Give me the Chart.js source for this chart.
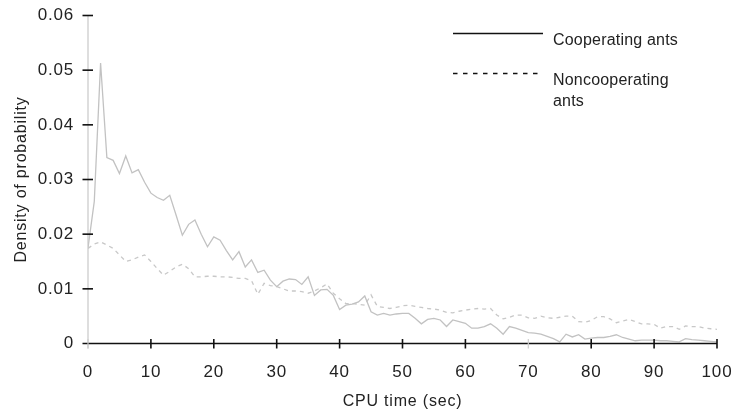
<!DOCTYPE html>
<html>
<head>
  <title>CPU time density</title>
  <style>
    html, body { margin: 0; padding: 0; background: #fff; }
    canvas { display: block; }
  </style>
</head>
<body>
  <canvas id="chart" width="734" height="411"></canvas>

  <script src="https://cdn.jsdelivr.net/npm/chart.js"></script>
  <script>
    // CPU time (sec)
    const cpuTime = [
      0, 1, 2, 3, 4, 5, 6, 7, 8, 9,
      10, 11, 12, 13, 14, 15, 16, 17, 18, 19,
      20, 21, 22, 23, 24, 25, 26, 27, 28, 29,
      30, 31, 32, 33, 34, 35, 36, 37, 38, 39,
      40, 41, 42, 43, 44, 45, 46, 47, 48, 49,
      50, 51, 52, 53, 54, 55, 56, 57, 58, 59,
      60, 61, 62, 63, 64, 65, 66, 67, 68, 69,
      70, 71, 72, 73, 74, 75, 76, 77, 78, 79,
      80, 81, 82, 83, 84, 85, 86, 87, 88, 89,
      90, 91, 92, 93, 94, 95, 96, 97, 98, 99,
      100
    ];

    const cooperating = [
      0.0175, 0.0260, 0.0513, 0.0340, 0.0335, 0.0311, 0.0343, 0.0312, 0.0318, 0.0295,
      0.0275, 0.0267, 0.0262, 0.0271, 0.0235, 0.0198, 0.0218, 0.0226, 0.0200, 0.0177,
      0.0195, 0.0189, 0.0170, 0.0153, 0.0168, 0.0140, 0.0153, 0.0130, 0.0134, 0.0116,
      0.0104, 0.0114, 0.0118, 0.0117, 0.0108, 0.0122, 0.0088, 0.0098, 0.0099, 0.0088,
      0.0062, 0.0070, 0.0072, 0.0076, 0.0087, 0.0058, 0.0052, 0.0055, 0.0052, 0.0054,
      0.0055, 0.0055, 0.0046, 0.0036, 0.0044, 0.0046, 0.0043, 0.0031, 0.0043, 0.0040,
      0.0037, 0.0028, 0.0028, 0.0031, 0.0036, 0.0028, 0.0017, 0.0031, 0.0028, 0.0024,
      0.0020, 0.0019, 0.0017, 0.0013, 0.0009, 0.0003, 0.0017, 0.0012, 0.0016, 0.0008,
      0.0010, 0.0011, 0.0011, 0.0013, 0.0016, 0.0011, 0.0008, 0.0005, 0.0006, 0.0006,
      0.0006, 0.0005, 0.0005, 0.0004, 0.0003, 0.0009, 0.0007, 0.0006, 0.0005, 0.0004,
      0.0003
    ];

    const noncooperating = [
      0.0174, 0.0182, 0.0186, 0.0180, 0.0174, 0.0162, 0.0150, 0.0153, 0.0158, 0.0162,
      0.0150, 0.0137, 0.0125, 0.0132, 0.0140, 0.0145, 0.0137, 0.0122, 0.0122, 0.0123,
      0.0123, 0.0122, 0.0122, 0.0121, 0.0119, 0.0119, 0.0115, 0.0090, 0.0110, 0.0106,
      0.0104, 0.0100, 0.0096, 0.0096, 0.0095, 0.0092, 0.0096, 0.0102, 0.0109, 0.0092,
      0.0082, 0.0073, 0.0073, 0.0072, 0.0070, 0.0089, 0.0068, 0.0066, 0.0064, 0.0066,
      0.0069, 0.0070, 0.0068, 0.0066, 0.0064, 0.0063, 0.0061, 0.0057, 0.0056, 0.0059,
      0.0061, 0.0063, 0.0064, 0.0063, 0.0064, 0.0052, 0.0045, 0.0048, 0.0052, 0.0052,
      0.0047, 0.0046, 0.0050, 0.0047, 0.0046, 0.0048, 0.0050, 0.0050, 0.0040, 0.0039,
      0.0042, 0.0049, 0.0049, 0.0045, 0.0038, 0.0041, 0.0044, 0.0040, 0.0036, 0.0036,
      0.0035, 0.0028, 0.0031, 0.0031, 0.0026, 0.0032, 0.0031, 0.0031, 0.0028, 0.0027,
      0.0026
    ];

    const seriesNames = ['Cooperating ants', 'Noncooperating ants'];
    // how the legend wraps each name
    const legendLines = [['Cooperating ants'], ['Noncooperating', 'ants']];
    const xTicks = [0, 10, 20, 30, 40, 50, 60, 70, 80, 90, 100];
    const yTicks = [0, 0.01, 0.02, 0.03, 0.04, 0.05, 0.06];

    const toPoints = ys => ys.map((y, i) => ({ x: cpuTime[i], y: y }));

    // axis lines and ticks that cross the axis, like the original
    const axesPlugin = {
      id: 'axesPlugin',
      afterDatasetsDraw(chart) {
        const { ctx, chartArea: a, scales } = chart;
        ctx.save();
        ctx.lineCap = 'butt';

        ctx.strokeStyle = '#c8c8c8';
        ctx.lineWidth = 1.2;
        ctx.beginPath();
        ctx.moveTo(a.left, a.top);
        ctx.lineTo(a.left, a.bottom + 5);
        ctx.stroke();

        ctx.strokeStyle = '#111';
        ctx.lineWidth = 1.6;
        ctx.beginPath();
        ctx.moveTo(a.left - 5.5, a.bottom);
        ctx.lineTo(a.right, a.bottom);
        ctx.stroke();

        yTicks.forEach(v => {
          if (v === 0) return;
          const py = scales.y.getPixelForValue(v);
          ctx.beginPath();
          ctx.moveTo(a.left - 5.5, py);
          ctx.lineTo(a.left + 5, py);
          ctx.stroke();
        });

        xTicks.forEach(v => {
          const px = scales.x.getPixelForValue(v);
          ctx.strokeStyle = (v === 0 || v === 70) ? '#cfcfcf' : '#111';
          ctx.lineWidth = (v === 0 || v === 70) ? 1.2 : 1.6;
          ctx.beginPath();
          ctx.moveTo(px, a.bottom - 4.5);
          ctx.lineTo(px, a.bottom + 5);
          ctx.stroke();
        });
        ctx.restore();
      }
    };

    const legendPlugin = {
      id: 'legendPlugin',
      afterDraw(chart) {
        const ctx = chart.ctx;
        ctx.save();
        ctx.letterSpacing = '0.2px';
        ctx.font = '16px "Liberation Sans", Arial, sans-serif';
        ctx.fillStyle = '#222';
        ctx.textBaseline = 'alphabetic';
        const rows = [33.5, 73.5];
        rows.forEach((ly, i) => {
          ctx.strokeStyle = '#111';
          ctx.lineWidth = 1.5;
          ctx.setLineDash(i === 0 ? [] : [4.5, 5.5]);
          ctx.beginPath();
          ctx.moveTo(453, ly);
          ctx.lineTo(543, ly);
          ctx.stroke();
          legendLines[i].forEach((t, j) => {
            ctx.fillText(t, 553, ly + 11 + j * 21.6);
          });
        });
        ctx.restore();
      }
    };

    const spacingPlugin = {
      id: 'spacingPlugin',
      beforeDraw(chart) {
        chart.ctx.letterSpacing = '0.8px';
      }
    };

    const fontFamily = '"Liberation Sans", Arial, sans-serif';

    new Chart(document.getElementById('chart'), {
      type: 'line',
      data: {
        datasets: [
          {
            label: seriesNames[0],
            data: toPoints(cooperating),
            borderColor: '#c2c2c2',
            borderWidth: 1.3,
            pointRadius: 0,
            tension: 0,
            fill: false
          },
          {
            label: seriesNames[1],
            data: toPoints(noncooperating),
            borderColor: '#c8c8c8',
            borderWidth: 1.3,
            borderDash: [4, 4],
            pointRadius: 0,
            tension: 0,
            fill: false
          }
        ]
      },
      options: {
        responsive: false,
        animation: false,
        devicePixelRatio: 1,
        layout: { padding: { left: 0, right: 17, top: 15.5, bottom: 0 } },
        plugins: {
          legend: { display: false },
          tooltip: { enabled: false }
        },
        scales: {
          x: {
            type: 'linear',
            min: 0,
            max: 100,
            afterFit: s => {
              s.height = 67.5;
              s.paddingLeft = 0;
              s.paddingRight = 0;
            },
            afterBuildTicks: s => { s.ticks = xTicks.map(v => ({ value: v })); },
            grid: { display: false, drawTicks: false },
            border: { display: false },
            ticks: {
              color: '#222',
              padding: 19,
              maxRotation: 0,
              font: { family: fontFamily, size: 17 }
            },
            title: {
              display: true,
              text: 'CPU time (sec)',
              color: '#222',
              padding: { top: 0, bottom: 0 },
              font: { family: fontFamily, size: 16 }
            }
          },
          y: {
            min: 0,
            max: 0.06,
            afterFit: s => {
              s.width = 88;
              s.paddingTop = 0;
              s.paddingBottom = 0;
            },
            afterBuildTicks: s => { s.ticks = yTicks.map(v => ({ value: v })); },
            grid: { display: false, drawTicks: false },
            border: { display: false },
            ticks: {
              color: '#222',
              padding: 14,
              font: { family: fontFamily, size: 17 },
              callback: v => (v === 0 ? '0' : v.toFixed(2))
            },
            title: {
              display: true,
              text: 'Density of probability',
              color: '#222',
              padding: { top: 12, bottom: 0 },
              font: { family: fontFamily, size: 16 }
            }
          }
        }
      },
      plugins: [spacingPlugin, axesPlugin, legendPlugin]
    });
  </script>
</body>
</html>
